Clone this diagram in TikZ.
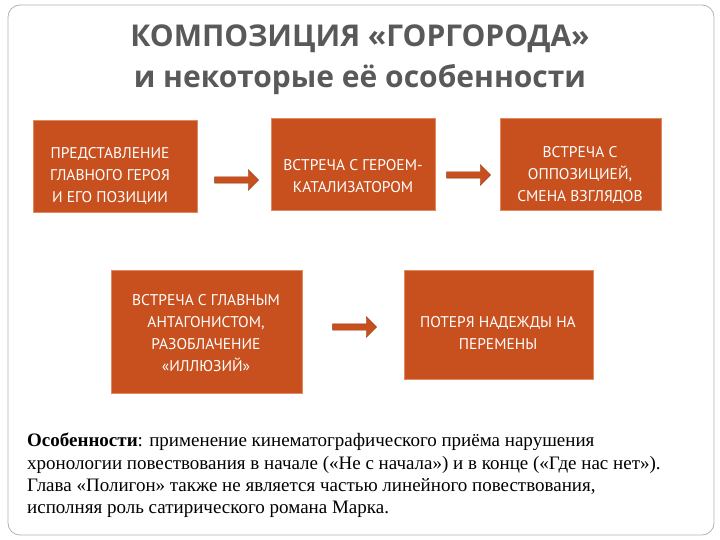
\documentclass[tikz,border=0pt]{standalone}
\usepackage{fontspec}
\setmainfont{Liberation Serif}
\setsansfont{PT Sans}
\newfontfamily\hd{Open Sans}
\usetikzlibrary{shapes.arrows}
\definecolor{boxc}{HTML}{C8501E}
\definecolor{edgec}{HTML}{E08A60}
\tikzset{
 box/.style={fill=boxc,draw=edgec,line width=1pt},
 lbl/.style={text=white,align=center,font=\sffamily\fontsize{15.5}{22}\selectfont},
 arr/.style={single arrow,fill=boxc,draw=boxc!70!black,minimum height=44pt,minimum width=17pt,inner xsep=0pt,inner ysep=3pt}
}
\begin{document}
\begin{tikzpicture}[x=1pt,y=-1pt]
\useasboundingbox (0,0) rectangle (720,540);
\draw[gray!60,rounded corners=12pt,line width=0.8pt] (8,5) rectangle (714,535);
\node[font=\hd\bfseries\fontsize{30}{41}\selectfont,text=black!65,align=center] (t) at (360,60) {КОМПОЗИЦИЯ «ГОРГОРОДА»\\и некоторые её особенности};
\path[box] (33,121) rectangle (197,213); \node[lbl] (b1) at (110,176) {ПРЕДСТАВЛЕНИЕ\\ГЛАВНОГО ГЕРОЯ\\И ЕГО ПОЗИЦИИ};
\path[box] (271,119) rectangle (435,211); \node[lbl] (b2) at (353,176) {ВСТРЕЧА С ГЕРОЕМ-\\КАТАЛИЗАТОРОМ};
\path[box] (500,119) rectangle (661,211); \node[lbl] (b3) at (580,175) {ВСТРЕЧА С\\ОППОЗИЦИЕЙ,\\СМЕНА ВЗГЛЯДОВ};
\path[box] (111,270) rectangle (302,393); \node[lbl] (b4) at (206,333) {ВСТРЕЧА С ГЛАВНЫМ\\АНТАГОНИСТОМ,\\РАЗОБЛАЧЕНИЕ\\«ИЛЛЮЗИЙ»};
\path[box] (404,270) rectangle (593,379); \node[lbl] (b5) at (498,333) {ПОТЕРЯ НАДЕЖДЫ НА\\ПЕРЕМЕНЫ};
\node[arr] (a1) at (235,180) {};
\node[arr] (a2) at (467,175) {};
\node[arr] (a3) at (353,327) {};
\node[anchor=north west,align=left,font=\fontsize{19}{22.2}\selectfont,inner sep=0pt] (txt) at (27,433) {\textbf{Особенности}: применение кинематографического приёма нарушения\\хронологии повествования в начале («Не с начала») и в конце («Где нас нет»).\\Глава «Полигон» также не является частью линейного повествования,\\исполняя роль сатирического романа Марка.};
\end{tikzpicture}
\end{document}
